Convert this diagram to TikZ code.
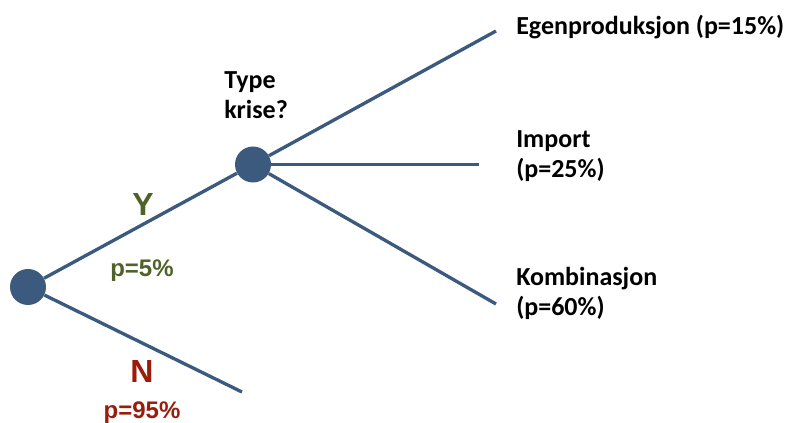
\documentclass[tikz,border=0pt]{standalone}
\usepackage{fontspec}
\setmainfont{Carlito}
\newfontfamily\labelfont{Liberation Sans}
\usepackage{xcolor}
\definecolor{treeblue}{HTML}{3B5A7E}
\definecolor{yescol}{HTML}{4F6228}
\definecolor{nocol}{HTML}{9B1C0C}

\tikzset{
  chance/.style={circle, fill=treeblue, inner sep=0pt, minimum size=27pt},
  branch/.style={draw=treeblue, line width=2.5pt},
  outcome/.style={inner sep=0pt, anchor=base west, align=left,
    font=\bfseries\fontsize{19.5}{22.5}\selectfont},
  bigans/.style={inner sep=0pt, anchor=base, font=\labelfont\bfseries\fontsize{24}{28}\selectfont},
  prob/.style={inner sep=0pt, anchor=base, font=\labelfont\bfseries\fontsize{18}{21}\selectfont}
}

\begin{document}
\begin{tikzpicture}[x=0.75pt,y=-0.75pt]
\useasboundingbox (0,0) rectangle (793,423);
\node[chance] (root) at (28,287) {};
\node[chance] (krise) at (253,164.5) {};
\coordinate (nend) at (242,392);
\coordinate (egenend) at (496,31);
\coordinate (importend) at (479,164.5);
\coordinate (kombend) at (496,304);
\draw[branch] (root) -- (krise);
\draw[branch] (root) -- (nend);
\draw[branch] (krise) -- (egenend);
\draw[branch] (krise) -- (importend);
\draw[branch] (krise) -- (kombend);
% svar ja / nei
\node[bigans, text=yescol] (yes) at (143,216) {Y};
\node[prob, text=yescol] (yesp) at (142,277) {p=5\%};
\node[bigans, text=nocol] (no) at (142,383) {N};
\node[prob, text=nocol] (nop) at (142,419) {p=95\%};
% utfall
\node[outcome] (type) at (224,119) {Type\\krise?};
\node[outcome] (egen) at (516,35) {Egenproduksjon (p=15\%)};
\node[outcome] (import) at (516,178) {Import\\(p=25\%)};
\node[outcome] (komb) at (516,316) {Kombinasjon\\(p=60\%)};
\end{tikzpicture}
\end{document}
